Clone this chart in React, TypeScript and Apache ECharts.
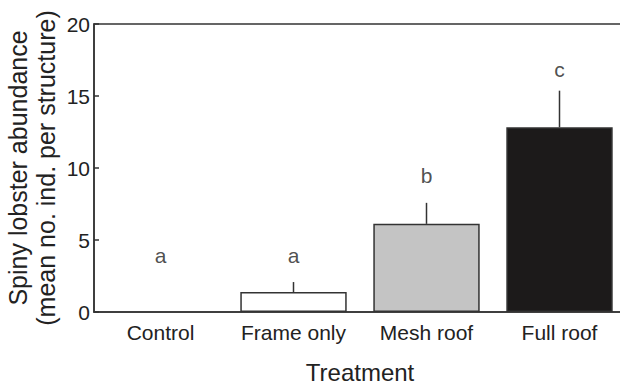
import React, { useEffect, useRef } from "react";
import * as echarts from "echarts";

const categories = ["Control", "Frame only", "Mesh roof", "Full roof"];
const means = [0, 1.39, 6.12, 12.83];
const upperErrors = [0, 2.08, 7.58, 15.37];
const groupLetters = ["a", "a", "b", "c"];
const letterHeights = [3.9, 3.9, 9.5, 16.85];
const barColors = ["#ffffff", "#ffffff", "#c4c4c4", "#1c1a1a"];
const yTicks = [0, 5, 10, 15, 20];

const FONT = "'Liberation Sans', Arial, Helvetica, sans-serif";
const AXIS = "#333333";

export default function App() {
  const ref = useRef<HTMLDivElement>(null);
  useEffect(() => {
    if (!ref.current) return;
    const chart = echarts.init(ref.current, undefined, { renderer: "svg" });
    chart.setOption({
      animation: false,
      backgroundColor: "#ffffff",
      grid: {
        left: 94,
        right: -6,
        top: 24,
        bottom: 76,
        containLabel: false,
        outerBoundsMode: "none",
        show: true,
        borderColor: AXIS,
        borderWidth: 1.5,
        backgroundColor: "transparent",
      },
      xAxis: {
        type: "category",
        data: categories,
        name: "Treatment",
        nameLocation: "middle",
        nameGap: 48,
        nameMoveOverlap: false,
        nameTextStyle: { fontFamily: FONT, fontSize: 24, color: "#222" },
        axisLine: { lineStyle: { color: AXIS, width: 1.5 } },
        axisTick: { show: false },
        axisLabel: { interval: 0, fontFamily: FONT, fontSize: 21, color: "#222", margin: 10 },
      },
      yAxis: {
        type: "value",
        min: yTicks[0],
        max: yTicks[yTicks.length - 1],
        interval: 5,
        name: "Spiny lobster abundance\n(mean no. ind. per structure)",
        nameLocation: "middle",
        nameRotate: 90,
        nameGap: 34,
        nameMoveOverlap: false,
        nameTextStyle: { fontFamily: FONT, fontSize: 25, color: "#222", lineHeight: 28 },
        splitLine: { show: false },
        axisLine: { show: true, lineStyle: { color: AXIS, width: 1.5 } },
        axisTick: { show: true, inside: true, length: 5, lineStyle: { color: AXIS, width: 1.5 } },
        axisLabel: { fontFamily: FONT, fontSize: 21, color: "#222", margin: 4 },
      },
      series: [
        {
          type: "bar",
          barCategoryGap: "20%",
          data: means.map((v, i) => ({
            value: v,
            itemStyle: {
              color: barColors[i],
              borderColor: AXIS,
              borderWidth: v > 0 ? 1.5 : 0,
            },
          })),
        },
        {
          type: "custom",
          data: means.map((m, i) => [i, m, upperErrors[i]]),
          renderItem: (params: any, api: any) => {
            const m = api.value(1);
            const u = api.value(2);
            if (!(u > m)) return null;
            const p1 = api.coord([api.value(0), m]);
            const p2 = api.coord([api.value(0), u]);
            return {
              type: "line",
              shape: { x1: p1[0], y1: p1[1], x2: p2[0], y2: p2[1] },
              style: { stroke: AXIS, lineWidth: 1.5 },
            };
          },
          z: 5,
        },
        {
          type: "scatter",
          symbolSize: 0,
          data: letterHeights.map((v, i) => [i, v]),
          label: {
            show: true,
            position: "inside",
            formatter: (p: any) => groupLetters[p.dataIndex],
            fontFamily: FONT,
            fontSize: 21,
            color: "#222",
          },
        },
      ],
    });
    return () => chart.dispose();
  }, []);
  return <div ref={ref} style={{ width: 620, height: 388, position: "absolute", left: 0, top: 0 }} />;
}
